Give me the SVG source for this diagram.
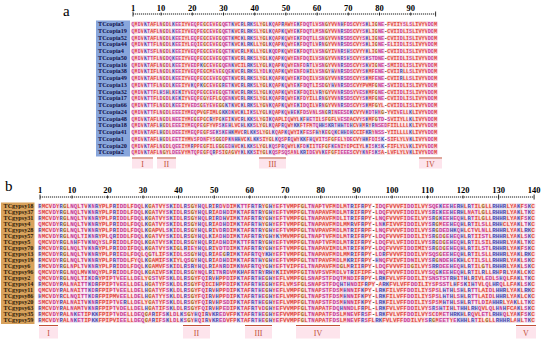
<svg xmlns="http://www.w3.org/2000/svg" width="550" height="342" viewBox="0 0 550 342">
<style>
.seq{font-family:"Liberation Mono",monospace;font-weight:bold;fill:#e0463f;stroke:#fbd9d7;stroke-width:1.7;paint-order:stroke;stroke-linejoin:round}
.sa{font-size:5.2px}
.sb{font-size:5.925px}
.seq tspan{fill:#c83c96;stroke:#f6dcef}
.seq tspan.b{fill:#4e4cae;stroke:#dfdff5}
.seq tspan.g{fill:#a4682a;stroke:#f3e3cc}
.seq tspan.k{fill:#111;stroke:none}
.nm{font-family:"Liberation Serif",serif;font-size:6.2px;font-weight:bold}
.na{fill:#10104a}
.nb{fill:#2a1606}
.num{font-family:"Liberation Serif",serif;font-size:8.5px;font-weight:bold;fill:#000;text-anchor:middle}
.rl{stroke:#000;stroke-width:0.9;stroke-dasharray:1.2 0.8;fill:none}
.tk{stroke:#000;stroke-width:0.8}
.mk{stroke:#c0503a;stroke-width:1.2}
.ml{font-family:"Liberation Serif",serif;font-size:8px;fill:#c0503a;text-anchor:middle}
.mb{fill:#fde4ec}
.pl{font-family:"Liberation Serif",serif;font-size:15px;fill:#000}
</style>

<g id="panel-a">
<text class="pl" x="63" y="15.5">a</text>
<g id="ruler-a">
<line class="rl" x1="133" y1="14" x2="435.6" y2="14"/>
<path class="tk" d="M133 11.5v5M161.1 12.5v3M192.3 12.5v3M223.5 12.5v3M254.7 12.5v3M285.9 12.5v3M317.1 12.5v3M348.3 12.5v3M379.5 12.5v3M410.7 12.5v3M435.6 11.5v5"/>
<text class="num" x="133" y="10.5">1</text><text class="num" x="161.1" y="10.5">10</text><text class="num" x="192.3" y="10.5">20</text><text class="num" x="223.5" y="10.5">30</text><text class="num" x="254.7" y="10.5">40</text><text class="num" x="285.9" y="10.5">50</text><text class="num" x="317.1" y="10.5">60</text><text class="num" x="348.3" y="10.5">70</text><text class="num" x="379.5" y="10.5">80</text><text class="num" x="410.7" y="10.5">90</text>
</g>
<g id="names-a">
<rect x="96" y="20.5" width="34" height="136" fill="#88a6dc"/>
<g class="nm na">
<text x="98" y="26.1">TCcopia5</text><text x="98" y="32.85">TCcopia19</text><text x="98" y="39.6">TCcopia52</text><text x="98" y="46.35">TCcopia44</text><text x="98" y="53.1">TCcopia4</text><text x="98" y="59.85">TCcopia50</text><text x="98" y="66.6">TCcopia16</text><text x="98" y="73.35">TCcopia38</text><text x="98" y="80.1">TCcopia49</text><text x="98" y="86.85">TCcopia13</text><text x="98" y="93.6">TCcopia32</text><text x="98" y="100.35">TCcopia17</text><text x="98" y="107.1">TCcopia66</text><text x="98" y="113.85">TCcopia24</text><text x="98" y="120.6">TCcopia48</text><text x="98" y="127.35">TCcopia18</text><text x="98" y="134.1">TCcopia41</text><text x="98" y="140.85">TCcopia1</text><text x="98" y="147.6">TCcopia20</text><text x="98" y="154.35">TCcopia2</text>
</g>
</g>
<g id="seq-a" class="seq sa">
<text x="131.44" y="26.1"><tspan>Q</tspan>M<tspan>D</tspan>V<tspan class="b">K</tspan><tspan>T</tspan>AFL<tspan>N</tspan><tspan class="g">G</tspan><tspan>D</tspan>L<tspan class="b">K</tspan><tspan>EE</tspan>IYV<tspan>EQ</tspan>P<tspan>E</tspan><tspan class="g">G</tspan>C<tspan>E</tspan>V<tspan>E</tspan><tspan class="g">G</tspan><tspan>QET</tspan><tspan class="b">K</tspan>VC<tspan class="b">R</tspan>L<tspan class="b">RK</tspan><tspan>S</tspan>LY<tspan class="g">G</tspan>L<tspan class="b">K</tspan><tspan>Q</tspan>AP<tspan class="b">R</tspan>AWY<tspan>E</tspan><tspan class="b">K</tspan>F<tspan>DQT</tspan>LV<tspan>SN</tspan><tspan class="g">G</tspan>YVV<tspan>N</tspan><tspan class="b">H</tspan>F<tspan>DS</tspan>CVY<tspan>S</tspan><tspan class="b">K</tspan>LI<tspan class="g">G</tspan><tspan>NE</tspan><tspan class="k">-</tspan>FVIIY<tspan>S</tspan>L<tspan>S</tspan>LIVYV<tspan>DD</tspan>M</text>
<text x="131.44" y="32.85"><tspan>Q</tspan>M<tspan>D</tspan>V<tspan class="b">K</tspan><tspan>T</tspan>AFL<tspan>N</tspan><tspan class="g">G</tspan><tspan>D</tspan>L<tspan class="b">K</tspan><tspan>EE</tspan>IYV<tspan>EQ</tspan>P<tspan>E</tspan><tspan class="g">G</tspan>C<tspan>E</tspan>V<tspan>E</tspan><tspan class="g">G</tspan><tspan>QET</tspan><tspan class="b">K</tspan>VC<tspan class="b">R</tspan>L<tspan class="b">RK</tspan><tspan>S</tspan>LY<tspan class="g">G</tspan>L<tspan class="b">K</tspan><tspan>Q</tspan>AP<tspan class="b">K</tspan><tspan>Q</tspan>WY<tspan>E</tspan><tspan class="b">K</tspan>F<tspan>DQT</tspan>LM<tspan>SN</tspan><tspan class="g">G</tspan>YVV<tspan>N</tspan><tspan class="b">R</tspan><tspan>SDS</tspan>CVY<tspan>S</tspan><tspan class="b">K</tspan>LI<tspan class="g">G</tspan><tspan>NE</tspan><tspan class="k">-</tspan>CVII<tspan>D</tspan>LI<tspan>S</tspan>LIVYV<tspan>DD</tspan>M</text>
<text x="131.44" y="39.6"><tspan>Q</tspan>M<tspan>D</tspan>V<tspan class="b">K</tspan><tspan>T</tspan>AFL<tspan>N</tspan><tspan class="g">G</tspan><tspan>D</tspan>L<tspan class="b">K</tspan><tspan>EE</tspan>IYL<tspan>EQ</tspan>P<tspan>E</tspan><tspan class="g">G</tspan>C<tspan>E</tspan>V<tspan>E</tspan><tspan class="g">G</tspan><tspan>QET</tspan><tspan class="b">K</tspan>MC<tspan class="b">K</tspan>L<tspan class="b">RK</tspan><tspan>S</tspan>LY<tspan class="g">G</tspan>L<tspan class="b">K</tspan><tspan>Q</tspan>AP<tspan class="b">K</tspan><tspan>Q</tspan>WY<tspan>E</tspan><tspan class="b">K</tspan>F<tspan>DQT</tspan>LL<tspan>SN</tspan><tspan class="g">G</tspan>YVV<tspan>N</tspan><tspan class="b">R</tspan><tspan>SDS</tspan>CVY<tspan>S</tspan><tspan class="b">K</tspan>LI<tspan class="g">G</tspan><tspan>NE</tspan><tspan class="k">-</tspan>CVII<tspan>D</tspan>LI<tspan>S</tspan>LIVYV<tspan>DD</tspan>M</text>
<text x="131.44" y="46.35"><tspan>Q</tspan>M<tspan>D</tspan>V<tspan class="b">K</tspan><tspan>TT</tspan>FL<tspan>N</tspan><tspan class="g">G</tspan><tspan>D</tspan>L<tspan class="b">K</tspan><tspan>EE</tspan>IYL<tspan>EQ</tspan>I<tspan>E</tspan><tspan class="g">G</tspan>C<tspan>E</tspan>V<tspan>E</tspan><tspan class="g">G</tspan><tspan>QET</tspan><tspan class="b">K</tspan>VC<tspan class="b">K</tspan>L<tspan class="b">RK</tspan>LLY<tspan class="g">G</tspan>L<tspan class="b">K</tspan><tspan>Q</tspan>AP<tspan class="b">K</tspan><tspan>Q</tspan>WY<tspan>E</tspan><tspan class="b">K</tspan>F<tspan>DQT</tspan>LV<tspan class="b">R</tspan><tspan>N</tspan><tspan class="g">G</tspan>YVV<tspan>N</tspan><tspan class="b">R</tspan><tspan>SDS</tspan>CVY<tspan>S</tspan><tspan class="b">K</tspan>LI<tspan class="g">G</tspan><tspan>NE</tspan><tspan class="k">-</tspan><tspan>E</tspan>LII<tspan>D</tspan>LI<tspan>S</tspan>LIVYV<tspan>DD</tspan>M</text>
<text x="131.44" y="53.1"><tspan>Q</tspan>M<tspan>D</tspan>V<tspan class="b">K</tspan><tspan>TS</tspan>FL<tspan>N</tspan><tspan class="g">G</tspan><tspan>D</tspan>L<tspan class="b">K</tspan><tspan>EE</tspan>IYV<tspan>EQ</tspan>P<tspan>E</tspan><tspan class="g">G</tspan>C<tspan>E</tspan>V<tspan>E</tspan><tspan class="g">G</tspan><tspan>QET</tspan><tspan class="b">K</tspan>VC<tspan class="b">R</tspan>LM<tspan class="b">K</tspan>LLY<tspan class="g">G</tspan>L<tspan class="b">K</tspan><tspan>QD</tspan>P<tspan class="b">K</tspan><tspan>Q</tspan>WY<tspan>E</tspan><tspan class="b">K</tspan>F<tspan>DQT</tspan>LV<tspan>SN</tspan><tspan class="g">G</tspan>YIV<tspan>N</tspan><tspan class="b">R</tspan><tspan>S</tspan><tspan class="b">H</tspan><tspan>S</tspan>CVYY<tspan class="b">K</tspan>LI<tspan class="g">G</tspan><tspan>NE</tspan><tspan class="k">-</tspan>CVII<tspan>D</tspan>LI<tspan>S</tspan>LIVYV<tspan>DD</tspan>M</text>
<text x="131.44" y="59.85"><tspan>Q</tspan>M<tspan>D</tspan>V<tspan class="b">K</tspan><tspan>TT</tspan>FL<tspan>N</tspan><tspan class="g">G</tspan><tspan>DQ</tspan><tspan class="b">K</tspan><tspan>EE</tspan>IYV<tspan>EQ</tspan>P<tspan>E</tspan><tspan class="g">G</tspan>C<tspan>E</tspan>V<tspan>E</tspan><tspan class="g">G</tspan><tspan>QET</tspan><tspan class="b">K</tspan>VC<tspan class="b">R</tspan>L<tspan class="b">RK</tspan><tspan>S</tspan>LY<tspan class="g">G</tspan>L<tspan class="b">K</tspan><tspan>Q</tspan>AP<tspan class="b">K</tspan><tspan>Q</tspan>WY<tspan>EN</tspan>F<tspan>DQ</tspan>ILV<tspan>SN</tspan><tspan class="g">G</tspan>YVV<tspan>N</tspan><tspan class="b">R</tspan><tspan>S</tspan><tspan class="b">H</tspan><tspan>S</tspan>CVY<tspan>S</tspan><tspan class="b">K</tspan><tspan>STDNE</tspan><tspan class="k">-</tspan>CVII<tspan>D</tspan>LI<tspan>S</tspan>LIVYV<tspan>DD</tspan>M</text>
<text x="131.44" y="66.6"><tspan>Q</tspan>M<tspan>D</tspan>V<tspan class="b">K</tspan><tspan>T</tspan>AFL<tspan>N</tspan><tspan class="g">G</tspan><tspan>D</tspan>L<tspan class="b">K</tspan><tspan>EE</tspan>IYV<tspan>ED</tspan>P<tspan class="b">K</tspan><tspan class="g">G</tspan>C<tspan>E</tspan>V<tspan>E</tspan><tspan class="g">G</tspan><tspan>QEN</tspan><tspan class="b">K</tspan>VCIL<tspan class="b">RK</tspan><tspan>S</tspan>LY<tspan class="g">G</tspan>L<tspan class="b">K</tspan><tspan>Q</tspan>AP<tspan class="b">K</tspan><tspan>Q</tspan>WY<tspan>EN</tspan>F<tspan>D</tspan><tspan class="b">R</tspan><tspan>T</tspan>LV<tspan>SN</tspan><tspan class="g">G</tspan>YVV<tspan>N</tspan><tspan class="b">R</tspan><tspan>SDS</tspan>CVY<tspan>S</tspan><tspan class="b">K</tspan>VI<tspan class="g">G</tspan><tspan>NE</tspan><tspan class="k">-</tspan><tspan>S</tspan>MII<tspan>D</tspan>LI<tspan>S</tspan>LIVYV<tspan>DD</tspan>M</text>
<text x="131.44" y="73.35"><tspan>Q</tspan>M<tspan>D</tspan>V<tspan class="b">K</tspan><tspan>T</tspan>IFL<tspan>N</tspan><tspan class="g">G</tspan><tspan>D</tspan>L<tspan class="b">K</tspan><tspan>EE</tspan>IYV<tspan>EQ</tspan>P<tspan>E</tspan><tspan class="g">G</tspan>CM<tspan>E</tspan>V<tspan>E</tspan><tspan class="g">G</tspan><tspan>QE</tspan><tspan class="b">K</tspan>VC<tspan class="b">R</tspan>L<tspan class="b">RK</tspan><tspan>S</tspan>LY<tspan>D</tspan>L<tspan class="b">K</tspan><tspan>Q</tspan>AP<tspan class="b">K</tspan><tspan>Q</tspan>WY<tspan>EN</tspan>F<tspan>D</tspan><tspan class="b">H</tspan>ILV<tspan>SN</tspan><tspan class="g">G</tspan>Y<tspan class="b">H</tspan>V<tspan>N</tspan><tspan class="b">R</tspan><tspan>SDS</tspan>CVY<tspan>S</tspan><tspan class="b">K</tspan>MF<tspan>ENE</tspan><tspan class="k">-</tspan>CVII<tspan class="b">R</tspan>LL<tspan>S</tspan>LIVYV<tspan>DD</tspan>M</text>
<text x="131.44" y="80.1"><tspan>Q</tspan>M<tspan>D</tspan>V<tspan class="b">K</tspan><tspan>T</tspan>AFL<tspan>N</tspan><tspan class="g">G</tspan><tspan>D</tspan>L<tspan class="b">K</tspan><tspan>EE</tspan>IYV<tspan>EQ</tspan>P<tspan>E</tspan><tspan class="g">G</tspan>C<tspan>E</tspan>V<tspan>E</tspan><tspan class="g">G</tspan><tspan>QET</tspan><tspan class="b">K</tspan>VC<tspan class="b">R</tspan>L<tspan class="b">RK</tspan><tspan>S</tspan>LY<tspan class="g">G</tspan>L<tspan class="b">K</tspan><tspan>Q</tspan>AP<tspan class="b">K</tspan><tspan>Q</tspan>WY<tspan>E</tspan><tspan class="b">K</tspan>F<tspan>DQ</tspan>ILV<tspan>SN</tspan><tspan class="g">G</tspan>YVV<tspan>N</tspan><tspan class="b">R</tspan><tspan>SDS</tspan>CVY<tspan>S</tspan><tspan class="b">K</tspan>MF<tspan>ENE</tspan><tspan class="k">-</tspan>CVII<tspan class="b">R</tspan>LL<tspan>S</tspan>LIVYV<tspan>DD</tspan>M</text>
<text x="131.44" y="86.85"><tspan>Q</tspan>M<tspan>D</tspan>V<tspan class="b">K</tspan><tspan>TT</tspan>FL<tspan>N</tspan><tspan class="g">G</tspan><tspan>D</tspan>L<tspan class="b">K</tspan><tspan>EE</tspan>IYV<tspan class="b">K</tspan><tspan>Q</tspan>P<tspan class="b">K</tspan><tspan class="g">G</tspan>C<tspan>E</tspan>V<tspan>E</tspan><tspan class="g">G</tspan><tspan class="b">R</tspan><tspan>ET</tspan><tspan class="b">K</tspan>VC<tspan class="b">R</tspan>L<tspan class="b">RK</tspan><tspan>S</tspan>LY<tspan class="g">G</tspan>L<tspan class="b">K</tspan><tspan>Q</tspan>AP<tspan class="b">K</tspan><tspan>Q</tspan>WY<tspan>E</tspan><tspan class="b">K</tspan>F<tspan>DQT</tspan>LI<tspan>SD</tspan><tspan class="g">G</tspan>Y<tspan class="b">H</tspan>V<tspan>N</tspan><tspan class="b">R</tspan><tspan>SDS</tspan>CVYPVMF<tspan class="g">G</tspan><tspan>NE</tspan><tspan class="k">-</tspan><tspan>S</tspan>VII<tspan>D</tspan>LI<tspan>S</tspan>LIVYV<tspan>DD</tspan>M</text>
<text x="131.44" y="93.6"><tspan>Q</tspan>M<tspan>D</tspan>V<tspan class="b">K</tspan><tspan>TT</tspan>FL<tspan class="b">H</tspan><tspan>S</tspan><tspan class="b">H</tspan>L<tspan class="b">K</tspan><tspan>E</tspan><tspan class="b">K</tspan>IYV<tspan>EQ</tspan>P<tspan>E</tspan><tspan class="g">G</tspan>C<tspan>E</tspan>V<tspan>E</tspan><tspan class="g">G</tspan><tspan>QET</tspan><tspan class="b">K</tspan>VC<tspan class="b">R</tspan>L<tspan class="b">RK</tspan><tspan>S</tspan>LY<tspan class="g">G</tspan>L<tspan class="b">K</tspan><tspan>Q</tspan>AP<tspan class="b">K</tspan><tspan>Q</tspan>WY<tspan>E</tspan><tspan class="b">K</tspan>F<tspan>DQ</tspan>ILV<tspan class="b">R</tspan>Y<tspan class="g">G</tspan>YVV<tspan>N</tspan><tspan class="b">R</tspan><tspan>SDS</tspan>YV<tspan>ES</tspan><tspan class="b">K</tspan>MF<tspan class="g">G</tspan><tspan>NE</tspan><tspan class="k">-</tspan>CVII<tspan>D</tspan>LI<tspan>S</tspan>LIVYV<tspan>DD</tspan>M</text>
<text x="131.44" y="100.35"><tspan>Q</tspan>M<tspan>D</tspan>V<tspan class="b">K</tspan><tspan>TT</tspan>FL<tspan>D</tspan><tspan class="g">G</tspan><tspan>D</tspan>L<tspan class="b">K</tspan><tspan>E</tspan><tspan class="b">K</tspan>IYV<tspan>EQ</tspan>P<tspan>E</tspan><tspan class="g">G</tspan>Y<tspan>E</tspan>FL<tspan class="g">G</tspan><tspan>QEN</tspan><tspan class="b">K</tspan>VC<tspan class="b">R</tspan>L<tspan class="b">RK</tspan><tspan>S</tspan>LY<tspan class="g">G</tspan>L<tspan class="b">K</tspan><tspan>Q</tspan>AP<tspan class="b">R</tspan><tspan>Q</tspan>WY<tspan>E</tspan><tspan class="b">K</tspan>F<tspan>D</tspan>YILL<tspan class="b">R</tspan><tspan>N</tspan><tspan class="g">G</tspan>YVV<tspan>N</tspan><tspan class="b">R</tspan><tspan>SDS</tspan>CVY<tspan>S</tspan><tspan class="b">K</tspan>MF<tspan class="g">G</tspan><tspan>NE</tspan><tspan class="k">-</tspan>CVII<tspan>D</tspan>LI<tspan>S</tspan>LIVYV<tspan>DD</tspan>M</text>
<text x="131.44" y="107.1"><tspan>Q</tspan>M<tspan>D</tspan>V<tspan class="b">K</tspan><tspan>TT</tspan>FL<tspan>N</tspan><tspan class="g">G</tspan><tspan>D</tspan>L<tspan class="b">K</tspan><tspan>EE</tspan>IYV<tspan>EDS</tspan><tspan class="g">G</tspan><tspan>E</tspan>Y<tspan>E</tspan>V<tspan>E</tspan><tspan class="g">GG</tspan><tspan class="b">K</tspan><tspan>T</tspan><tspan class="b">K</tspan>VC<tspan class="b">K</tspan>L<tspan class="b">RK</tspan><tspan>S</tspan>LY<tspan class="g">G</tspan>V<tspan class="b">K</tspan><tspan>Q</tspan>AP<tspan class="b">K</tspan><tspan>Q</tspan>WY<tspan>E</tspan><tspan class="b">K</tspan>I<tspan>DQ</tspan>ILV<tspan class="b">R</tspan><tspan>N</tspan><tspan class="g">G</tspan>YVV<tspan>N</tspan><tspan class="b">R</tspan><tspan>SDS</tspan>CVY<tspan>S</tspan><tspan class="b">K</tspan>MF<tspan class="g">G</tspan>YL<tspan class="k">-</tspan>CVII<tspan>D</tspan>LI<tspan>S</tspan>LIVYV<tspan>DD</tspan>M</text>
<text x="131.44" y="113.85"><tspan>Q</tspan>M<tspan>D</tspan>V<tspan class="b">K</tspan><tspan>TT</tspan>FL<tspan>N</tspan><tspan class="g">G</tspan><tspan>D</tspan>L<tspan>EEE</tspan>IYM<tspan>EQ</tspan>PV<tspan class="g">G</tspan>FIML<tspan class="g">G</tspan><tspan class="b">KK</tspan><tspan>D</tspan><tspan class="b">K</tspan>VC<tspan class="b">K</tspan>LI<tspan class="b">K</tspan><tspan>S</tspan>LY<tspan class="g">G</tspan>L<tspan class="b">K</tspan><tspan>Q</tspan>AP<tspan class="b">K</tspan><tspan>Q</tspan>W<tspan class="b">H</tspan><tspan>E</tspan><tspan class="b">K</tspan>F<tspan>DS</tspan>V<tspan>N</tspan>L<tspan>SN</tspan><tspan class="g">G</tspan><tspan class="b">R</tspan>I<tspan>NEESD</tspan><tspan class="b">K</tspan>CVYV<tspan class="b">K</tspan><tspan>DT</tspan><tspan class="b">H</tspan><tspan>N</tspan><tspan class="g">G</tspan><tspan class="k">-</tspan>YVIV<tspan>E</tspan>LL<tspan class="b">K</tspan>LIVYV<tspan>DD</tspan>M</text>
<text x="131.44" y="120.6"><tspan>Q</tspan>M<tspan>D</tspan>V<tspan class="b">K</tspan><tspan>T</tspan>AFL<tspan>N</tspan><tspan class="g">G</tspan><tspan>D</tspan>L<tspan>NEE</tspan>IYM<tspan>E</tspan><tspan class="g">G</tspan><tspan>E</tspan>P<tspan class="g">G</tspan>C<tspan class="b">R</tspan>YP<tspan class="g">G</tspan><tspan class="b">K</tspan><tspan>E</tspan>I<tspan class="b">K</tspan>VC<tspan class="b">R</tspan>L<tspan class="b">KK</tspan><tspan>S</tspan>LY<tspan class="g">G</tspan>I<tspan class="b">K</tspan><tspan>Q</tspan>APLI<tspan>Q</tspan>WYL<tspan class="b">K</tspan>F<tspan class="b">H</tspan><tspan>ET</tspan>IL<tspan>S</tspan>F<tspan class="g">G</tspan>FLV<tspan>ESD</tspan>ACVY<tspan>S</tspan><tspan class="b">K</tspan>MF<tspan class="g">G</tspan><tspan>TD</tspan><tspan class="k">-</tspan><tspan>S</tspan>VIIYLL<tspan class="b">K</tspan>LIVYV<tspan>DD</tspan>M</text>
<text x="131.44" y="127.35"><tspan>Q</tspan>M<tspan>D</tspan>V<tspan class="b">K</tspan><tspan>T</tspan>AFL<tspan class="b">H</tspan><tspan class="g">G</tspan><tspan>D</tspan>L<tspan>EEE</tspan>IYM<tspan>EQ</tspan>P<tspan>E</tspan><tspan class="g">G</tspan>FYVP<tspan>S</tspan><tspan class="b">K</tspan><tspan>E</tspan><tspan class="b">H</tspan>LVC<tspan class="b">H</tspan>L<tspan class="b">KK</tspan><tspan>S</tspan>LY<tspan class="g">G</tspan>L<tspan class="b">K</tspan><tspan>Q</tspan>AP<tspan class="b">R</tspan><tspan>Q</tspan>WY<tspan class="b">KK</tspan>F<tspan>T</tspan>FM<tspan>TQ</tspan><tspan class="b">HH</tspan><tspan>S</tspan><tspan class="b">KR</tspan><tspan>T</tspan><tspan class="b">HH</tspan><tspan>TD</tspan><tspan class="b">H</tspan>CV<tspan class="b">H</tspan>M<tspan class="b">R</tspan>Y<tspan class="b">R</tspan><tspan>NSED</tspan>FIILLLL<tspan class="b">K</tspan>LIVYV<tspan>DD</tspan>M</text>
<text x="131.44" y="134.1"><tspan>Q</tspan>M<tspan>D</tspan>V<tspan class="b">K</tspan><tspan>T</tspan>AFL<tspan class="b">H</tspan><tspan class="g">G</tspan><tspan>D</tspan>L<tspan>DEE</tspan>IYM<tspan>EQ</tspan>P<tspan>E</tspan><tspan class="g">G</tspan>F<tspan>SE</tspan><tspan class="b">K</tspan><tspan>S</tspan><tspan class="b">K</tspan><tspan>E</tspan><tspan class="b">HK</tspan>MVC<tspan class="b">R</tspan>L<tspan class="b">KK</tspan><tspan>S</tspan>LY<tspan class="g">G</tspan>L<tspan class="b">K</tspan><tspan>Q</tspan>AP<tspan class="b">K</tspan><tspan>Q</tspan>WYI<tspan class="b">K</tspan>F<tspan>ES</tspan>F<tspan class="b">H</tspan>Y<tspan class="b">K</tspan><tspan>E</tspan><tspan class="g">G</tspan><tspan>Q</tspan><tspan class="b">K</tspan>C<tspan class="b">HH</tspan><tspan>D</tspan><tspan class="b">H</tspan>CCIF<tspan class="b">KR</tspan>Y<tspan>NSS</tspan><tspan class="k">-</tspan>YIILLLL<tspan class="b">K</tspan>LIVYV<tspan>DD</tspan>M</text>
<text x="131.44" y="140.85"><tspan>Q</tspan>M<tspan>D</tspan>V<tspan class="b">K</tspan><tspan>T</tspan>AFL<tspan class="b">H</tspan><tspan class="g">G</tspan><tspan>D</tspan>L<tspan>EET</tspan>IYMV<tspan>S</tspan>P<tspan>DN</tspan>FY<tspan>S</tspan><tspan class="g">GG</tspan><tspan>D</tspan>P<tspan class="b">K</tspan><tspan>N</tspan><tspan class="b">HH</tspan>VC<tspan class="b">K</tspan>L<tspan class="b">KK</tspan><tspan>S</tspan>IY<tspan class="g">G</tspan>L<tspan class="b">K</tspan><tspan>QS</tspan>P<tspan class="b">R</tspan><tspan>Q</tspan>WY<tspan class="b">KK</tspan>F<tspan class="b">H</tspan><tspan>Q</tspan>VI<tspan>TS</tspan>F<tspan class="g">G</tspan>F<tspan>E</tspan>LY<tspan>DE</tspan>CVY<tspan class="b">HK</tspan>F<tspan>D</tspan>I<tspan>S</tspan><tspan class="b">K</tspan><tspan class="k">-</tspan><tspan>S</tspan>IFLYLV<tspan class="b">K</tspan>LIVYV<tspan>DD</tspan>M</text>
<text x="131.44" y="147.6"><tspan>Q</tspan>M<tspan>D</tspan>V<tspan class="b">K</tspan><tspan>T</tspan>AFL<tspan>N</tspan><tspan class="g">G</tspan><tspan>D</tspan>L<tspan>QEE</tspan>IYM<tspan class="b">R</tspan>PP<tspan>E</tspan><tspan class="g">G</tspan>FIL<tspan>E</tspan><tspan class="g">GG</tspan><tspan>ED</tspan><tspan class="b">H</tspan>VC<tspan class="b">K</tspan>L<tspan class="b">KK</tspan><tspan>S</tspan>LY<tspan class="g">G</tspan>L<tspan class="b">K</tspan><tspan>QS</tspan>P<tspan class="b">R</tspan><tspan>Q</tspan>WYL<tspan class="b">K</tspan>F<tspan>D</tspan><tspan class="b">K</tspan>II<tspan>TE</tspan>F<tspan class="g">G</tspan>F<tspan class="b">K</tspan><tspan>EN</tspan>IY<tspan>D</tspan>PCIYL<tspan class="b">K</tspan>I<tspan>S</tspan><tspan class="b">K</tspan><tspan>S</tspan><tspan class="b">K</tspan><tspan class="k">-</tspan>FIFLYLV<tspan class="b">K</tspan>LIVYV<tspan>DD</tspan>M</text>
<text x="131.44" y="154.35"><tspan>Q</tspan>M<tspan>D</tspan>V<tspan class="b">K</tspan><tspan>T</tspan>AFL<tspan>N</tspan><tspan class="g">G</tspan>YL<tspan>DEE</tspan>VYM<tspan>TQ</tspan>P<tspan>E</tspan><tspan class="g">G</tspan>F<tspan>Q</tspan><tspan class="b">R</tspan>P<tspan>S</tspan>I<tspan class="g">G</tspan>A<tspan class="g">G</tspan>VY<tspan class="b">K</tspan>L<tspan class="b">KK</tspan><tspan>S</tspan>IY<tspan class="g">G</tspan>L<tspan class="b">K</tspan><tspan>QS</tspan>P<tspan>SQS</tspan>A<tspan>N</tspan>L<tspan class="b">KR</tspan>I<tspan>DE</tspan>VV<tspan class="b">K</tspan><tspan>E</tspan>F<tspan class="g">G</tspan>FI<tspan>EEES</tspan>CVY<tspan class="b">K</tspan><tspan>N</tspan>F<tspan>S</tspan><tspan class="b">K</tspan><tspan>S</tspan>A<tspan class="k">-</tspan>LVFLYLV<tspan class="b">K</tspan>LIVYV<tspan>DD</tspan>M</text>
</g>
<g id="motifs-a">
<rect class="mb" x="132" y="159" width="21" height="9.5"/>
<rect class="mb" x="157" y="159" width="19" height="9.5"/>
<rect class="mb" x="259" y="159" width="27" height="9.5"/>
<rect class="mb" x="419" y="159" width="23" height="9.5"/>
<path class="mk" d="M132 158H153M157 158H176M259 158H286M419 158H442"/>
<text class="ml" x="142.5" y="166.5">I</text><text class="ml" x="166.5" y="166.5">II</text><text class="ml" x="272.5" y="166.5">III</text><text class="ml" x="430.5" y="166.5">IV</text>
</g>
</g>

<g id="panel-b">
<text class="pl" x="5" y="191">b</text>
<g id="ruler-b">
<line class="rl" x1="40" y1="197" x2="534.1" y2="197"/>
<path class="tk" d="M40 194.5v5M72 195.5v3M107.5 195.5v3M143.1 195.5v3M178.6 195.5v3M214.2 195.5v3M249.7 195.5v3M285.3 195.5v3M320.8 195.5v3M356.4 195.5v3M392 195.5v3M427.5 195.5v3M463 195.5v3M498.6 194.5v5M534.1 194.5v5"/>
<text class="num" x="40" y="193">1</text><text class="num" x="72" y="193">10</text><text class="num" x="107.5" y="193">20</text><text class="num" x="143.1" y="193">30</text><text class="num" x="178.6" y="193">40</text><text class="num" x="214.2" y="193">50</text><text class="num" x="249.7" y="193">60</text><text class="num" x="285.3" y="193">70</text><text class="num" x="320.8" y="193">80</text><text class="num" x="356.4" y="193">90</text><text class="num" x="392" y="193">100</text><text class="num" x="427.5" y="193">110</text><text class="num" x="463" y="193">120</text><text class="num" x="498.6" y="193">130</text><text class="num" x="534.1" y="193">140</text>
</g>
<g id="names-b">
<rect x="1" y="202.5" width="33.5" height="121.5" fill="#d8a25c"/>
<g class="nm nb">
<text x="3.5" y="208.1">TCgypsy18</text><text x="3.5" y="214.1">TCgypsy37</text><text x="3.5" y="220.1">TCgypsy31</text><text x="3.5" y="226.1">TCgypsy4</text><text x="3.5" y="232.1">TCgypsy28</text><text x="3.5" y="238.1">TCgypsy57</text><text x="3.5" y="244.1">TCgypsy5</text><text x="3.5" y="250.1">TCgypsy70</text><text x="3.5" y="256.1">TCgypsy13</text><text x="3.5" y="262.1">TCgypsy19</text><text x="3.5" y="268.1">TCgypsy6</text><text x="3.5" y="274.1">TCgypsy96</text><text x="3.5" y="280.1">TCgypsy2</text><text x="3.5" y="286.1">TCgypsy14</text><text x="3.5" y="292.1">TCgypsy11</text><text x="3.5" y="298.1">TCgypsy86</text><text x="3.5" y="304.1">TCgypsy20</text><text x="3.5" y="310.1">TCgypsy63</text><text x="3.5" y="316.1">TCgypsy35</text><text x="3.5" y="322.1">TCgypsy59</text>
</g>
</g>
<g id="seq-b" class="seq sb">
<text x="38.22" y="208.1"><tspan class="b">R</tspan>MCV<tspan>D</tspan>Y<tspan class="b">R</tspan><tspan class="g">G</tspan>L<tspan>NQ</tspan>L<tspan>T</tspan>V<tspan class="b">K</tspan><tspan>N</tspan><tspan class="b">R</tspan>YPLP<tspan class="b">R</tspan>I<tspan>DD</tspan>LF<tspan>DQ</tspan>L<tspan class="b">K</tspan><tspan class="g">G</tspan>A<tspan>T</tspan>VY<tspan>S</tspan><tspan class="b">K</tspan>I<tspan>D</tspan>L<tspan class="b">R</tspan><tspan>S</tspan><tspan class="g">G</tspan>Y<tspan class="b">H</tspan><tspan>Q</tspan>L<tspan class="b">R</tspan>I<tspan class="b">R</tspan><tspan>D</tspan>V<tspan>D</tspan>IM<tspan class="b">K</tspan><tspan>TT</tspan>F<tspan class="b">R</tspan><tspan>T</tspan><tspan class="b">R</tspan>Y<tspan class="g">G</tspan><tspan class="b">H</tspan>Y<tspan>E</tspan>F<tspan>T</tspan>VMPF<tspan class="g">G</tspan>L<tspan>TN</tspan>AP<tspan>T</tspan>VFM<tspan>D</tspan>LM<tspan>T</tspan><tspan class="b">R</tspan>IF<tspan class="b">R</tspan>PY<tspan class="k">-</tspan>I<tspan>DQ</tspan>FVVVFI<tspan>DD</tspan>ILVY<tspan>SQE</tspan><tspan class="b">K</tspan><tspan>EE</tspan><tspan class="b">H</tspan><tspan>E</tspan><tspan class="b">RH</tspan>L<tspan class="b">R</tspan><tspan>T</tspan>IL<tspan class="g">G</tspan>LL<tspan class="b">RHHR</tspan>LYA<tspan class="b">K</tspan>F<tspan>S</tspan><tspan class="b">K</tspan>C</text>
<text x="38.22" y="214.1"><tspan>S</tspan>MCV<tspan>D</tspan>Y<tspan class="b">R</tspan><tspan class="g">G</tspan>L<tspan>NQ</tspan>L<tspan>T</tspan>V<tspan class="b">K</tspan><tspan>N</tspan><tspan class="b">R</tspan>YPLP<tspan class="b">R</tspan>I<tspan>DD</tspan>LF<tspan>DQ</tspan>L<tspan class="b">K</tspan><tspan class="g">G</tspan>A<tspan>T</tspan>VY<tspan>S</tspan><tspan class="b">K</tspan>I<tspan>D</tspan>L<tspan class="b">R</tspan><tspan>S</tspan><tspan class="g">G</tspan>Y<tspan class="b">H</tspan><tspan>Q</tspan>L<tspan class="b">R</tspan>IA<tspan>D</tspan><tspan class="b">H</tspan><tspan>D</tspan>IM<tspan class="b">K</tspan><tspan>T</tspan>AF<tspan class="b">R</tspan><tspan>T</tspan><tspan class="b">R</tspan>Y<tspan class="g">G</tspan><tspan class="b">H</tspan>Y<tspan>E</tspan>F<tspan>T</tspan>VMPF<tspan class="g">G</tspan>L<tspan>TN</tspan>APAVFM<tspan>D</tspan>LM<tspan>T</tspan><tspan class="b">R</tspan>IF<tspan class="b">R</tspan>PY<tspan class="k">-</tspan>L<tspan>DQ</tspan>FVVVFI<tspan>DD</tspan>ILVY<tspan>S</tspan><tspan class="b">R</tspan><tspan>E</tspan><tspan class="b">K</tspan><tspan>EE</tspan><tspan class="b">H</tspan><tspan>E</tspan><tspan class="b">RH</tspan>L<tspan>N</tspan>A<tspan>T</tspan>L<tspan class="g">G</tspan>LL<tspan class="b">RHHR</tspan>LYA<tspan class="b">K</tspan>L<tspan>T</tspan><tspan class="b">K</tspan>C</text>
<text x="38.22" y="220.1"><tspan class="b">R</tspan>MCV<tspan>D</tspan>Y<tspan class="b">R</tspan><tspan class="g">G</tspan>L<tspan>NQ</tspan>L<tspan>T</tspan>V<tspan class="b">K</tspan><tspan>N</tspan><tspan class="b">R</tspan>YPLP<tspan class="b">R</tspan>I<tspan>DD</tspan>LF<tspan>DQ</tspan>L<tspan class="b">K</tspan><tspan class="g">G</tspan>A<tspan>T</tspan>VY<tspan>S</tspan><tspan class="b">K</tspan>I<tspan>D</tspan>L<tspan class="b">R</tspan><tspan>S</tspan><tspan class="g">G</tspan>Y<tspan class="b">H</tspan><tspan>Q</tspan>L<tspan class="b">R</tspan>I<tspan class="b">R</tspan><tspan>D</tspan><tspan class="b">H</tspan>VIM<tspan class="b">K</tspan><tspan>T</tspan>AF<tspan class="b">R</tspan><tspan>T</tspan><tspan class="b">R</tspan>Y<tspan class="g">G</tspan><tspan class="b">H</tspan>Y<tspan>E</tspan>F<tspan>T</tspan>VMPF<tspan class="g">G</tspan>L<tspan>TN</tspan>APAVFM<tspan>D</tspan>LI<tspan>T</tspan><tspan class="b">R</tspan>IF<tspan class="b">R</tspan>PY<tspan class="k">-</tspan>L<tspan>NQ</tspan>FVVVFI<tspan>DE</tspan>ILVY<tspan>S</tspan><tspan class="b">R</tspan><tspan class="g">G</tspan><tspan class="b">K</tspan><tspan>EE</tspan><tspan class="b">H</tspan><tspan>EQ</tspan><tspan class="b">H</tspan>L<tspan class="b">R</tspan><tspan>T</tspan>IL<tspan class="g">G</tspan>LL<tspan class="b">RHHR</tspan>LYA<tspan class="b">K</tspan>F<tspan>S</tspan><tspan class="b">K</tspan>C</text>
<text x="38.22" y="226.1"><tspan>Q</tspan>MCV<tspan>D</tspan>Y<tspan class="b">R</tspan><tspan class="g">G</tspan>L<tspan>NQ</tspan>L<tspan>T</tspan>V<tspan class="b">K</tspan><tspan>N</tspan><tspan class="b">R</tspan>YPLP<tspan class="b">R</tspan>I<tspan>DD</tspan>LF<tspan>DQ</tspan>L<tspan class="b">K</tspan><tspan class="g">G</tspan>A<tspan>T</tspan>VY<tspan>S</tspan><tspan class="b">K</tspan>I<tspan>D</tspan>L<tspan class="b">R</tspan><tspan>S</tspan><tspan class="g">G</tspan>Y<tspan class="b">H</tspan><tspan>Q</tspan>L<tspan class="b">R</tspan>IA<tspan>D</tspan><tspan class="b">H</tspan><tspan>D</tspan>IM<tspan class="b">K</tspan><tspan>T</tspan>AF<tspan class="b">R</tspan><tspan>T</tspan><tspan class="b">H</tspan>Y<tspan class="g">G</tspan><tspan class="b">H</tspan>Y<tspan>E</tspan>F<tspan>T</tspan>VMPF<tspan class="g">G</tspan>L<tspan>TN</tspan>APAVFM<tspan>D</tspan>LMM<tspan class="b">R</tspan>VF<tspan class="b">R</tspan>PY<tspan class="k">-</tspan>L<tspan>N</tspan><tspan class="b">K</tspan>FIVVFI<tspan>DD</tspan>ILVY<tspan>S</tspan><tspan class="b">R</tspan><tspan class="g">G</tspan>M<tspan>EE</tspan><tspan class="b">H</tspan><tspan>EQ</tspan><tspan class="b">H</tspan>L<tspan class="b">R</tspan><tspan>T</tspan>IL<tspan>S</tspan>LL<tspan class="b">RHH</tspan>CLYA<tspan class="b">K</tspan>L<tspan>T</tspan><tspan class="b">K</tspan>C</text>
<text x="38.22" y="232.1"><tspan class="b">R</tspan>MCV<tspan>D</tspan>Y<tspan class="b">R</tspan><tspan class="g">G</tspan>L<tspan>NQ</tspan>L<tspan>T</tspan>V<tspan class="b">K</tspan><tspan>N</tspan><tspan class="b">R</tspan>YPLP<tspan class="b">R</tspan>I<tspan>DD</tspan>LF<tspan>DQ</tspan>L<tspan class="b">K</tspan><tspan class="g">G</tspan>APVL<tspan>S</tspan><tspan class="b">K</tspan>I<tspan>D</tspan>L<tspan class="b">R</tspan><tspan>S</tspan><tspan class="g">G</tspan>Y<tspan class="b">H</tspan><tspan>Q</tspan>L<tspan class="b">R</tspan>IV<tspan>D</tspan><tspan class="b">R</tspan><tspan>D</tspan>IM<tspan class="b">K</tspan><tspan>T</tspan>AF<tspan class="b">R</tspan><tspan>T</tspan><tspan class="b">R</tspan>Y<tspan class="g">G</tspan><tspan class="b">H</tspan>Y<tspan>E</tspan>F<tspan>T</tspan>VMPF<tspan class="g">G</tspan>L<tspan>TN</tspan>VPAVFM<tspan>D</tspan>LM<tspan>T</tspan><tspan class="b">R</tspan>IF<tspan class="b">R</tspan>PF<tspan class="k">-</tspan>L<tspan>NQ</tspan>FVVVFI<tspan>DD</tspan>ILVY<tspan>S</tspan><tspan class="b">R</tspan><tspan class="g">G</tspan><tspan>DED</tspan><tspan class="b">HK</tspan><tspan>Q</tspan><tspan class="b">H</tspan>LC<tspan>T</tspan>VL<tspan>N</tspan>LL<tspan class="b">RHHR</tspan>LYA<tspan class="b">K</tspan>L<tspan class="b">RK</tspan>C</text>
<text x="38.22" y="238.1"><tspan>N</tspan>MCV<tspan>D</tspan>Y<tspan class="b">R</tspan><tspan class="g">G</tspan>L<tspan>NQ</tspan>L<tspan>T</tspan>I<tspan class="b">K</tspan><tspan>N</tspan><tspan class="b">R</tspan>YPL<tspan>Q</tspan><tspan class="b">R</tspan>I<tspan>DD</tspan>LF<tspan>DQ</tspan>L<tspan class="b">K</tspan><tspan class="g">G</tspan>A<tspan>T</tspan>VY<tspan>S</tspan><tspan class="b">K</tspan>I<tspan>D</tspan>L<tspan class="b">R</tspan><tspan>S</tspan><tspan class="g">G</tspan>Y<tspan class="b">H</tspan><tspan>Q</tspan>L<tspan class="b">K</tspan>IA<tspan>D</tspan><tspan class="b">H</tspan><tspan>D</tspan>IM<tspan class="b">K</tspan><tspan>T</tspan>AF<tspan class="b">R</tspan><tspan>T</tspan><tspan class="b">R</tspan>Y<tspan class="g">G</tspan><tspan class="b">H</tspan>Y<tspan class="b">K</tspan>YMVMPF<tspan class="g">G</tspan>L<tspan>TN</tspan>AP<tspan>T</tspan>VFM<tspan>D</tspan>LM<tspan>T</tspan><tspan class="b">R</tspan>IF<tspan class="b">R</tspan>PY<tspan class="k">-</tspan>L<tspan>DQ</tspan>FVVVFI<tspan>DD</tspan>ILIY<tspan>S</tspan><tspan class="b">R</tspan><tspan class="g">G</tspan><tspan>D</tspan><tspan class="g">G</tspan><tspan>E</tspan><tspan class="b">H</tspan><tspan>EQ</tspan><tspan class="b">H</tspan>L<tspan class="b">R</tspan><tspan>T</tspan>II<tspan>ST</tspan>L<tspan class="b">RHHR</tspan>LYA<tspan class="b">K</tspan>L<tspan>S</tspan><tspan class="b">K</tspan>C</text>
<text x="38.22" y="244.1"><tspan>Q</tspan>MCV<tspan>D</tspan>Y<tspan class="b">R</tspan><tspan class="g">G</tspan>L<tspan>N</tspan><tspan class="b">H</tspan>F<tspan>T</tspan>V<tspan class="b">K</tspan><tspan>NQ</tspan>Y<tspan>S</tspan>LP<tspan class="b">R</tspan>I<tspan>DD</tspan>LF<tspan>DQ</tspan>L<tspan class="b">K</tspan><tspan class="g">G</tspan>A<tspan>T</tspan>VY<tspan>S</tspan><tspan class="b">K</tspan>I<tspan>D</tspan>L<tspan class="b">R</tspan><tspan>S</tspan><tspan class="g">G</tspan>Y<tspan class="b">H</tspan><tspan>Q</tspan>L<tspan class="b">R</tspan>IA<tspan>D</tspan><tspan class="b">H</tspan><tspan>D</tspan>IM<tspan class="b">K</tspan><tspan>TT</tspan>F<tspan class="b">R</tspan><tspan>T</tspan><tspan class="b">R</tspan>Y<tspan class="g">G</tspan><tspan class="b">H</tspan>Y<tspan>E</tspan>F<tspan>T</tspan>VMPF<tspan class="g">G</tspan>L<tspan>TN</tspan>AP<tspan>T</tspan>VFM<tspan>D</tspan>LM<tspan>T</tspan><tspan class="b">R</tspan>IF<tspan class="b">R</tspan>PY<tspan class="k">-</tspan>L<tspan>DQ</tspan>FVLVFI<tspan>DD</tspan>ILVY<tspan>S</tspan><tspan class="b">R</tspan><tspan class="g">G</tspan><tspan>D</tspan><tspan class="g">G</tspan><tspan>E</tspan><tspan class="b">H</tspan><tspan>EQ</tspan><tspan class="b">H</tspan>L<tspan class="b">R</tspan><tspan>T</tspan>IL<tspan>S</tspan>IL<tspan class="b">RHHR</tspan>LYA<tspan class="b">K</tspan>L<tspan>T</tspan><tspan class="b">K</tspan>C</text>
<text x="38.22" y="250.1"><tspan class="b">R</tspan>MCV<tspan>D</tspan>Y<tspan class="b">R</tspan><tspan class="g">G</tspan>L<tspan>NQ</tspan>L<tspan>T</tspan>V<tspan class="b">K</tspan><tspan>N</tspan><tspan class="b">R</tspan>YPLP<tspan class="b">R</tspan>I<tspan>DD</tspan>IF<tspan>DQ</tspan>L<tspan class="b">K</tspan><tspan class="g">G</tspan>A<tspan>T</tspan>VY<tspan>S</tspan><tspan class="b">K</tspan>I<tspan class="g">G</tspan>L<tspan class="b">R</tspan>I<tspan>E</tspan>Y<tspan class="b">H</tspan><tspan>Q</tspan>L<tspan class="b">R</tspan>IV<tspan>DTD</tspan>IM<tspan class="b">K</tspan><tspan>T</tspan>AF<tspan class="b">R</tspan><tspan>T</tspan><tspan class="b">R</tspan>Y<tspan class="g">G</tspan><tspan class="b">H</tspan>Y<tspan>E</tspan>F<tspan>T</tspan>VMPF<tspan class="g">G</tspan>L<tspan>TN</tspan>APAVIM<tspan>D</tspan>LM<tspan>T</tspan><tspan class="b">R</tspan>IF<tspan class="b">K</tspan>PY<tspan class="k">-</tspan>L<tspan>DQ</tspan>FVVVFI<tspan>DD</tspan>IMIY<tspan>S</tspan><tspan class="b">R</tspan><tspan class="g">G</tspan><tspan>D</tspan><tspan class="g">G</tspan><tspan>E</tspan><tspan class="b">H</tspan><tspan>EQ</tspan><tspan class="b">H</tspan>L<tspan class="b">R</tspan><tspan>T</tspan>IL<tspan>ST</tspan>L<tspan class="b">RHHR</tspan>LYA<tspan class="b">K</tspan>F<tspan>S</tspan><tspan class="b">K</tspan>C</text>
<text x="38.22" y="256.1"><tspan class="b">R</tspan>MCV<tspan>D</tspan>Y<tspan class="b">R</tspan><tspan class="g">G</tspan>L<tspan>NQ</tspan>L<tspan>T</tspan>V<tspan class="b">K</tspan><tspan>N</tspan><tspan class="b">R</tspan>YPLP<tspan class="b">R</tspan>I<tspan>ED</tspan>LF<tspan>DQ</tspan>L<tspan>Q</tspan><tspan class="g">G</tspan><tspan>T</tspan>LIF<tspan>S</tspan><tspan class="b">K</tspan>I<tspan>D</tspan>L<tspan>SS</tspan><tspan class="g">G</tspan>Y<tspan class="b">H</tspan><tspan>Q</tspan>L<tspan class="b">R</tspan>IA<tspan>E</tspan><tspan class="g">G</tspan><tspan class="b">R</tspan>IM<tspan class="b">K</tspan><tspan>T</tspan>AF<tspan class="b">R</tspan><tspan>TQ</tspan>Y<tspan class="b">KH</tspan>Y<tspan>E</tspan>F<tspan>T</tspan>VMPF<tspan class="g">G</tspan>L<tspan>TN</tspan>APAVFM<tspan>D</tspan>LMM<tspan class="b">R</tspan>IF<tspan class="b">R</tspan>PY<tspan class="k">-</tspan>L<tspan>D</tspan><tspan class="b">R</tspan>FVVVFI<tspan>DD</tspan>ILVY<tspan>SQS</tspan><tspan class="g">G</tspan><tspan>EE</tspan><tspan class="b">H</tspan><tspan>EQ</tspan><tspan class="b">H</tspan>L<tspan class="b">R</tspan><tspan>T</tspan>IL<tspan>S</tspan>LL<tspan class="b">RHHR</tspan>LYA<tspan class="b">K</tspan>L<tspan class="b">RK</tspan>C</text>
<text x="38.22" y="262.1"><tspan class="b">R</tspan>MCV<tspan>D</tspan>Y<tspan class="b">R</tspan><tspan class="g">G</tspan>L<tspan>NQ</tspan>L<tspan>T</tspan>V<tspan class="b">K</tspan><tspan>N</tspan><tspan class="b">R</tspan>YPLP<tspan class="b">R</tspan><tspan>TDD</tspan>LFY<tspan>Q</tspan>L<tspan class="b">K</tspan><tspan class="g">G</tspan>AMIF<tspan>S</tspan><tspan class="b">K</tspan>IYL<tspan>QS</tspan><tspan class="g">G</tspan>Y<tspan class="b">H</tspan><tspan>Q</tspan>L<tspan class="b">R</tspan>IA<tspan>D</tspan><tspan class="b">H</tspan><tspan>D</tspan>IM<tspan class="b">K</tspan><tspan>T</tspan>AF<tspan class="b">R</tspan><tspan>T</tspan><tspan class="b">H</tspan>Y<tspan class="g">G</tspan><tspan class="b">H</tspan>Y<tspan>E</tspan>F<tspan>T</tspan>VMPF<tspan class="g">G</tspan>L<tspan>TNT</tspan>PAVFM<tspan>D</tspan>LM<tspan class="b">KR</tspan>IF<tspan class="b">R</tspan>PY<tspan class="k">-</tspan><tspan class="b">H</tspan><tspan>NQ</tspan>FVIVFI<tspan>DN</tspan>ILVY<tspan>S</tspan><tspan class="b">R</tspan><tspan class="g">G</tspan><tspan>NDE</tspan><tspan class="b">H</tspan><tspan>E</tspan><tspan class="b">KH</tspan>LC<tspan>T</tspan>IL<tspan>S</tspan>LL<tspan class="b">RHHR</tspan>LYA<tspan class="b">K</tspan>L<tspan>S</tspan><tspan class="b">K</tspan>C</text>
<text x="38.22" y="268.1"><tspan class="b">R</tspan>MCV<tspan>D</tspan>Y<tspan class="b">R</tspan><tspan class="g">G</tspan>L<tspan>N</tspan>PL<tspan>T</tspan>V<tspan class="b">K</tspan><tspan>N</tspan><tspan class="b">R</tspan>YPLP<tspan class="b">R</tspan>I<tspan>DD</tspan>LF<tspan>DQ</tspan>L<tspan class="b">K</tspan><tspan class="g">G</tspan>AMVF<tspan>S</tspan><tspan class="b">K</tspan>I<tspan>D</tspan>L<tspan class="b">R</tspan><tspan>S</tspan><tspan class="b">R</tspan>Y<tspan class="b">H</tspan><tspan>Q</tspan>L<tspan class="b">R</tspan>IA<tspan>N</tspan><tspan class="b">R</tspan><tspan>D</tspan>IM<tspan class="b">K</tspan><tspan>N</tspan>AF<tspan class="b">R</tspan><tspan>TQ</tspan>Y<tspan class="g">G</tspan><tspan class="b">H</tspan>Y<tspan>E</tspan>F<tspan>T</tspan>VIPF<tspan>E</tspan>L<tspan>TN</tspan>APAVFM<tspan>D</tspan><tspan class="g">G</tspan>LM<tspan class="b">R</tspan>II<tspan class="b">R</tspan>PY<tspan class="k">-</tspan>L<tspan>DQ</tspan>FVVVFI<tspan>D</tspan><tspan class="g">G</tspan>ILVY<tspan>S</tspan><tspan class="b">RR</tspan><tspan>DEE</tspan><tspan class="b">H</tspan><tspan>EQ</tspan><tspan class="b">H</tspan>L<tspan class="b">R</tspan><tspan>T</tspan>IL<tspan class="g">G</tspan><tspan>T</tspan>L<tspan class="b">RHHR</tspan>LYA<tspan class="b">K</tspan>L<tspan>S</tspan><tspan class="b">K</tspan>C</text>
<text x="38.22" y="274.1"><tspan>Q</tspan>MCV<tspan>D</tspan>Y<tspan class="b">R</tspan><tspan class="g">G</tspan>L<tspan>NQ</tspan>LMV<tspan class="b">K</tspan><tspan>NQ</tspan>YPLP<tspan class="b">R</tspan>I<tspan>DD</tspan>LF<tspan>DQ</tspan>L<tspan class="b">K</tspan><tspan class="g">G</tspan>AIVF<tspan>S</tspan><tspan class="b">K</tspan>I<tspan>D</tspan>L<tspan class="b">R</tspan><tspan>S</tspan><tspan class="g">G</tspan>Y<tspan>NQ</tspan>L<tspan class="b">R</tspan>I<tspan>TN</tspan><tspan class="b">R</tspan><tspan>D</tspan>VM<tspan class="b">KH</tspan>AF<tspan class="b">R</tspan><tspan>T</tspan><tspan class="b">R</tspan>Y<tspan class="b">RH</tspan>Y<tspan class="b">K</tspan>IIVMPF<tspan class="g">G</tspan>I<tspan>TN</tspan>VP<tspan>S</tspan>VFM<tspan>D</tspan>LV<tspan>T</tspan><tspan class="b">R</tspan>IFIPF<tspan class="k">-</tspan>L<tspan>NQ</tspan>FVVVFI<tspan>DD</tspan>ILVY<tspan>SQ</tspan><tspan class="g">G</tspan><tspan class="b">K</tspan><tspan>EE</tspan><tspan class="b">H</tspan><tspan>EQ</tspan><tspan class="b">H</tspan>L<tspan class="b">R</tspan><tspan>T</tspan>IL<tspan class="b">R</tspan>LL<tspan class="b">RH</tspan>P<tspan class="b">R</tspan>LYA<tspan class="b">K</tspan>LC<tspan class="b">K</tspan>C</text>
<text x="38.22" y="280.1"><tspan>Q</tspan>MCV<tspan>D</tspan>Y<tspan class="b">R</tspan><tspan class="g">G</tspan>L<tspan>NQ</tspan>L<tspan>T</tspan>I<tspan class="b">K</tspan><tspan>D</tspan><tspan class="b">R</tspan>YPIP<tspan>T</tspan>V<tspan>EE</tspan>LL<tspan>DE</tspan>LY<tspan class="g">G</tspan><tspan>ST</tspan>VF<tspan>S</tspan><tspan class="b">K</tspan>L<tspan>D</tspan>L<tspan class="b">R</tspan><tspan>S</tspan><tspan class="g">G</tspan>YF<tspan>Q</tspan>I<tspan class="b">R</tspan>V<tspan class="b">H</tspan>PP<tspan>D</tspan>IP<tspan class="b">K</tspan><tspan>T</tspan>AF<tspan class="b">R</tspan><tspan>T</tspan><tspan class="b">H</tspan><tspan>E</tspan><tspan class="g">G</tspan><tspan class="b">H</tspan>Y<tspan>E</tspan>FLVMPF<tspan class="g">G</tspan>L<tspan>SN</tspan>AP<tspan>ST</tspan>F<tspan>DQT</tspan>M<tspan>ND</tspan>IF<tspan class="b">R</tspan>PY<tspan class="k">-</tspan>L<tspan class="b">RK</tspan>FVLVFF<tspan>DD</tspan>ILIY<tspan>SNSTST</tspan><tspan class="b">RH</tspan>I<tspan>T</tspan><tspan class="b">H</tspan>L<tspan class="b">R</tspan>IVL<tspan>ED</tspan>L<tspan>S</tspan><tspan class="b">H</tspan><tspan>Q</tspan>LFA<tspan class="b">K</tspan>L<tspan>T</tspan><tspan class="b">K</tspan>C</text>
<text x="38.22" y="286.1"><tspan class="b">R</tspan>MCV<tspan>D</tspan>Y<tspan class="b">R</tspan>AL<tspan>N</tspan>AI<tspan>TT</tspan><tspan class="b">K</tspan><tspan>D</tspan><tspan class="b">R</tspan>FPIP<tspan>T</tspan>V<tspan>EE</tspan>LL<tspan>DE</tspan>L<tspan class="b">H</tspan><tspan class="g">G</tspan>A<tspan>T</tspan>YF<tspan>S</tspan><tspan class="b">K</tspan>L<tspan>D</tspan>L<tspan class="b">R</tspan><tspan>S</tspan><tspan class="g">G</tspan>YF<tspan>Q</tspan>ICI<tspan class="b">H</tspan>PP<tspan>D</tspan>IP<tspan class="b">K</tspan><tspan>T</tspan>AF<tspan class="b">R</tspan><tspan>T</tspan><tspan class="b">H</tspan><tspan>E</tspan><tspan class="g">G</tspan><tspan class="b">H</tspan>Y<tspan>E</tspan>FLVM<tspan>S</tspan>F<tspan class="g">G</tspan>L<tspan>SN</tspan>AP<tspan>ST</tspan>F<tspan>DQ</tspan><tspan class="b">H</tspan><tspan>T</tspan><tspan class="b">H</tspan><tspan>ND</tspan>IF<tspan class="b">R</tspan>PY<tspan class="k">-</tspan>A<tspan class="b">RK</tspan>FVLVFF<tspan>DD</tspan>ILIY<tspan>S</tspan>P<tspan>SST</tspan>L<tspan class="b">H</tspan>F<tspan>S</tspan><tspan class="b">K</tspan>I<tspan class="b">H</tspan><tspan>T</tspan>VL<tspan>Q</tspan>L<tspan class="b">HR</tspan><tspan>Q</tspan>LLFA<tspan class="b">K</tspan>L<tspan>S</tspan><tspan class="b">K</tspan>C</text>
<text x="38.22" y="292.1"><tspan>Q</tspan>MCV<tspan>D</tspan>Y<tspan class="b">R</tspan>AL<tspan>N</tspan>AI<tspan>TT</tspan><tspan class="b">K</tspan><tspan>D</tspan><tspan class="b">R</tspan>FPIP<tspan>T</tspan>V<tspan>EE</tspan>LL<tspan>DE</tspan>L<tspan class="b">H</tspan><tspan class="g">G</tspan>A<tspan>T</tspan>YF<tspan>S</tspan><tspan class="b">K</tspan>L<tspan>D</tspan>L<tspan class="b">R</tspan><tspan>S</tspan><tspan class="g">G</tspan>YF<tspan>Q</tspan>I<tspan class="b">R</tspan>V<tspan class="b">H</tspan>PP<tspan>D</tspan>IP<tspan class="b">K</tspan><tspan>T</tspan>AF<tspan class="b">R</tspan><tspan>T</tspan><tspan class="b">H</tspan><tspan>E</tspan><tspan class="g">G</tspan><tspan class="b">H</tspan>Y<tspan>E</tspan>FLVMPF<tspan class="g">G</tspan>L<tspan>TN</tspan>AP<tspan>ST</tspan>F<tspan>DS</tspan>M<tspan class="b">H</tspan><tspan>NN</tspan>IF<tspan class="b">K</tspan>PY<tspan class="k">-</tspan>L<tspan class="b">RK</tspan>FILVFF<tspan>DD</tspan>ILIY<tspan>S</tspan>P<tspan>S</tspan>L<tspan class="b">H</tspan><tspan>T</tspan><tspan class="b">H</tspan>L<tspan>S</tspan><tspan class="b">H</tspan>L<tspan class="b">R</tspan><tspan>TT</tspan>LAI<tspan>D</tspan>L<tspan class="b">HHR</tspan>LYA<tspan class="b">K</tspan>L<tspan class="b">RK</tspan>C</text>
<text x="38.22" y="298.1"><tspan class="b">H</tspan>MCV<tspan>D</tspan>Y<tspan class="b">R</tspan>CL<tspan>NQ</tspan>I<tspan>TT</tspan><tspan class="b">K</tspan><tspan>D</tspan><tspan class="b">R</tspan>FPIPMV<tspan>EE</tspan>LL<tspan>DE</tspan>L<tspan class="b">H</tspan><tspan class="g">G</tspan>A<tspan>T</tspan>YY<tspan>S</tspan><tspan class="b">K</tspan>L<tspan>D</tspan>L<tspan class="b">R</tspan><tspan>S</tspan><tspan class="g">G</tspan>YF<tspan>Q</tspan>I<tspan class="b">R</tspan>V<tspan class="b">H</tspan>PP<tspan>D</tspan>IP<tspan class="b">K</tspan><tspan>T</tspan>AF<tspan class="b">R</tspan><tspan>T</tspan><tspan class="b">H</tspan><tspan>E</tspan><tspan class="g">G</tspan><tspan class="b">H</tspan>Y<tspan>E</tspan>FLVMPF<tspan class="g">G</tspan>L<tspan>TN</tspan>AP<tspan>ST</tspan>F<tspan>DS</tspan>M<tspan class="b">H</tspan><tspan>NN</tspan>IF<tspan class="b">K</tspan>PY<tspan class="k">-</tspan>L<tspan class="b">RK</tspan>FILVFF<tspan>DD</tspan>ILIY<tspan>S</tspan>P<tspan>S</tspan>L<tspan class="b">H</tspan><tspan>T</tspan><tspan class="b">H</tspan>L<tspan>S</tspan><tspan class="b">H</tspan>L<tspan class="b">R</tspan><tspan>TT</tspan>LAI<tspan>D</tspan>L<tspan class="b">HHR</tspan>LYA<tspan class="b">K</tspan>LC<tspan class="b">K</tspan>C</text>
<text x="38.22" y="304.1"><tspan>S</tspan>MCV<tspan>D</tspan>Y<tspan class="b">R</tspan>AL<tspan>N</tspan>AI<tspan>T</tspan>V<tspan class="b">K</tspan><tspan>N</tspan><tspan class="b">R</tspan>FPIP<tspan>T</tspan>V<tspan>E</tspan><tspan class="b">R</tspan>LL<tspan>DE</tspan>LY<tspan class="g">G</tspan>A<tspan>T</tspan>YF<tspan>S</tspan><tspan class="b">K</tspan>L<tspan>D</tspan>L<tspan class="b">R</tspan><tspan>S</tspan><tspan class="g">G</tspan>YF<tspan>Q</tspan>I<tspan class="b">R</tspan>V<tspan class="b">H</tspan>P<tspan>SD</tspan>IP<tspan class="b">K</tspan><tspan>T</tspan>AF<tspan class="b">R</tspan><tspan>T</tspan><tspan class="b">H</tspan><tspan>E</tspan><tspan class="g">G</tspan><tspan class="b">H</tspan>Y<tspan>E</tspan>FLVMPF<tspan class="g">G</tspan>L<tspan>TN</tspan>AP<tspan>ST</tspan>F<tspan>DS</tspan>M<tspan class="b">H</tspan><tspan>NN</tspan>IF<tspan class="b">K</tspan>PY<tspan class="k">-</tspan>L<tspan class="b">RK</tspan>FILVFF<tspan>DD</tspan>ILIY<tspan>S</tspan>P<tspan>S</tspan>M<tspan class="b">H</tspan><tspan>T</tspan><tspan class="b">H</tspan>L<tspan>S</tspan><tspan class="b">H</tspan>L<tspan class="b">R</tspan><tspan>TT</tspan>L<tspan>D</tspan>IA<tspan class="b">HHR</tspan>LYA<tspan class="b">K</tspan>LL<tspan>T</tspan><tspan class="b">K</tspan>C</text>
<text x="38.22" y="310.1"><tspan class="b">R</tspan>MCV<tspan>D</tspan>Y<tspan class="b">R</tspan>AL<tspan>N</tspan>AM<tspan>T</tspan>V<tspan class="b">K</tspan><tspan>N</tspan><tspan class="b">R</tspan>FPIP<tspan>T</tspan>V<tspan>DE</tspan>LL<tspan>DE</tspan>L<tspan class="b">H</tspan><tspan class="g">G</tspan>A<tspan>T</tspan>IF<tspan>S</tspan><tspan class="b">K</tspan>L<tspan>D</tspan>L<tspan class="b">R</tspan><tspan>S</tspan><tspan class="g">G</tspan>YF<tspan>Q</tspan>I<tspan class="b">R</tspan>V<tspan class="b">H</tspan>P<tspan>ED</tspan>IP<tspan class="b">K</tspan><tspan>T</tspan>AF<tspan class="b">R</tspan><tspan>T</tspan>V<tspan>D</tspan><tspan class="g">G</tspan><tspan class="b">H</tspan>Y<tspan>E</tspan>FVVMPF<tspan class="g">G</tspan>L<tspan>TN</tspan>APA<tspan>T</tspan>F<tspan>DQ</tspan><tspan class="b">H</tspan><tspan>NND</tspan>LF<tspan class="b">R</tspan>PL<tspan class="k">-</tspan>L<tspan class="b">RK</tspan>FVLVFF<tspan>DD</tspan>ILVY<tspan>S</tspan><tspan class="b">R</tspan><tspan>S</tspan><tspan class="b">H</tspan><tspan>T</tspan>I<tspan class="b">H</tspan>L<tspan>T</tspan><tspan class="b">HH</tspan>L<tspan class="b">RH</tspan><tspan>Q</tspan>VL<tspan>Q</tspan>L<tspan class="b">H</tspan><tspan>N</tspan><tspan class="b">H</tspan>FCA<tspan class="b">K</tspan>L<tspan>S</tspan><tspan class="b">K</tspan>C</text>
<text x="38.22" y="316.1"><tspan class="b">R</tspan>MCV<tspan>D</tspan>Y<tspan class="b">R</tspan>AL<tspan>N</tspan><tspan class="b">K</tspan><tspan>ET</tspan>IP<tspan class="b">KK</tspan>FPIP<tspan>T</tspan>V<tspan>DE</tspan>LL<tspan>DEQ</tspan><tspan class="g">G</tspan>A<tspan class="b">R</tspan>IF<tspan>S</tspan><tspan class="b">K</tspan>L<tspan>D</tspan>L<tspan class="b">K</tspan><tspan>S</tspan><tspan class="g">G</tspan>Y<tspan class="b">H</tspan><tspan>Q</tspan>I<tspan class="b">R</tspan>V<tspan class="b">KR</tspan><tspan>ED</tspan>VFP<tspan class="b">K</tspan><tspan>T</tspan>AF<tspan class="b">R</tspan><tspan>T</tspan><tspan class="b">H</tspan><tspan>E</tspan><tspan class="g">G</tspan><tspan class="b">H</tspan>Y<tspan>E</tspan>FVVMPF<tspan class="g">G</tspan>L<tspan>TN</tspan>APA<tspan>T</tspan>F<tspan>DS</tspan>LM<tspan>NE</tspan>VF<tspan class="b">R</tspan><tspan>S</tspan>F<tspan class="k">-</tspan>L<tspan class="b">RK</tspan>FVLVFF<tspan>DD</tspan>ILVY<tspan>S</tspan>C<tspan>D</tspan>M<tspan>ET</tspan><tspan class="b">HRKH</tspan>L<tspan class="b">R</tspan><tspan>Q</tspan>VL<tspan>ET</tspan>L<tspan class="b">RHH</tspan><tspan>Q</tspan>LYA<tspan class="b">K</tspan>F<tspan>S</tspan><tspan class="b">K</tspan>C</text>
<text x="38.22" y="322.1"><tspan class="b">R</tspan>MCV<tspan>D</tspan>Y<tspan class="b">R</tspan>AL<tspan>N</tspan><tspan class="b">K</tspan><tspan>ET</tspan>IP<tspan class="b">KK</tspan>FPIPVI<tspan>EE</tspan>LL<tspan>DEQ</tspan><tspan class="g">G</tspan>A<tspan class="b">R</tspan>IF<tspan>S</tspan><tspan class="b">K</tspan>L<tspan>D</tspan>L<tspan class="b">K</tspan><tspan>S</tspan><tspan class="g">G</tspan>Y<tspan class="b">H</tspan><tspan>Q</tspan>I<tspan class="b">R</tspan>V<tspan class="b">KR</tspan><tspan>ED</tspan>VFP<tspan class="b">K</tspan><tspan>T</tspan>AF<tspan class="b">R</tspan><tspan>T</tspan><tspan class="b">H</tspan><tspan>E</tspan><tspan class="g">G</tspan><tspan class="b">H</tspan>Y<tspan>E</tspan>FVVMPF<tspan class="g">G</tspan>L<tspan>TN</tspan>APA<tspan>T</tspan>F<tspan>DS</tspan>LM<tspan>NE</tspan>VF<tspan class="b">R</tspan><tspan>S</tspan>FL<tspan class="b">RK</tspan>FVLVFF<tspan>DD</tspan>ILVY<tspan>S</tspan><tspan class="b">R</tspan><tspan class="g">G</tspan>M<tspan>EET</tspan>Y<tspan>E</tspan><tspan class="b">KHH</tspan>L<tspan class="b">R</tspan><tspan>T</tspan>IL<tspan class="g">G</tspan>LL<tspan class="b">RHHR</tspan>LA<tspan class="b">H</tspan>L<tspan>T</tspan><tspan class="b">K</tspan>C</text>
</g>
<g id="motifs-b">
<rect class="mb" x="39" y="326.5" width="19" height="12"/>
<rect class="mb" x="183" y="326.5" width="27" height="12"/>
<rect class="mb" x="245" y="326.5" width="27" height="12"/>
<rect class="mb" x="296" y="326.5" width="44" height="12"/>
<rect class="mb" x="516" y="326.5" width="20" height="12"/>
<path class="mk" d="M39 325.5H58M183 325.5H210M245 325.5H272M296 325.5H340M516 325.5H536"/>
<text class="ml" x="48.5" y="335.5">I</text><text class="ml" x="196.5" y="335.5">II</text><text class="ml" x="258.5" y="335.5">III</text><text class="ml" x="318" y="335.5">IV</text><text class="ml" x="526" y="335.5">V</text>
</g>
</g>
</svg>
